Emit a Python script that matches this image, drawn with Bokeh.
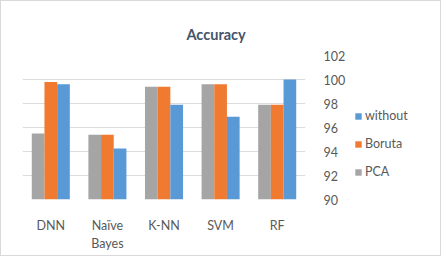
from bokeh.plotting import figure
from bokeh.layouts import row
from bokeh.models import (FactorRange, Range1d, LinearAxis, Legend, LegendItem,
                          FixedTicker, ColumnDataSource)
from bokeh.transform import dodge
from bokeh.embed import file_html
from bokeh.resources import INLINE

categories = ["DNN", "Naïve\nBayes", "K-NN", "SVM", "RF"]
pca = [95.5, 95.4, 99.4, 99.6, 97.9]
boruta = [99.8, 95.4, 99.4, 99.6, 97.9]
without = [99.6, 94.25, 97.9, 96.9, 100.0]
y_ticks = [90, 92, 94, 96, 98, 100, 102]
series = ["without", "Boruta", "PCA"]
colors = {"PCA": "#a5a5a5", "Boruta": "#ef7a30", "without": "#5899d6"}

FONT = "Lato"
TXT = "#595959"

src = ColumnDataSource(dict(cat=categories, pca=pca, boruta=boruta, without=without))

p = figure(frame_width=283, frame_height=144, output_backend="svg", toolbar_location=None,
           x_range=FactorRange(*categories, range_padding=0),
           y_range=Range1d(90, 102), y_axis_location=None,
           min_border_left=21, min_border_right=0, min_border_top=54,
           min_border_bottom=56, outline_line_color=None)

w = 0.224
r_pca = p.vbar(x=dodge("cat", -w, range=p.x_range), top="pca", bottom=90, width=w,
               source=src, fill_color=colors["PCA"], line_color=None)
r_bor = p.vbar(x=dodge("cat", 0, range=p.x_range), top="boruta", bottom=90, width=w,
               source=src, fill_color=colors["Boruta"], line_color=None)
r_wo = p.vbar(x=dodge("cat", w, range=p.x_range), top="without", bottom=90, width=w,
              source=src, fill_color=colors["without"], line_color=None)

yax = LinearAxis(ticker=FixedTicker(ticks=y_ticks))
yax.axis_line_color = None
yax.major_tick_line_color = None
yax.minor_tick_line_color = None
yax.major_label_text_font = FONT
yax.major_label_text_font_size = "12.5px"
yax.major_label_text_color = TXT
yax.major_label_standoff = 12
p.add_layout(yax, "right")

p.ygrid.ticker = FixedTicker(ticks=y_ticks)
p.ygrid.grid_line_color = "#dcdcdc"
p.xgrid.grid_line_color = None

xa = p.xaxis[0]
xa.axis_line_color = None
xa.major_tick_line_color = None
xa.minor_tick_line_color = None
xa.major_label_text_font = FONT
xa.major_label_text_font_size = "12.5px"
xa.major_label_text_color = TXT
xa.major_label_standoff = 12

p.title.text = "Accuracy"
p.title.text_font = FONT
p.title.text_font_style = "bold"
p.title.text_font_size = "14.5px"
p.title.text_color = "#44546a"
p.title.align = "left"
p.title.offset = 164
p.title.standoff = 22
p.title.vertical_align = "top"

# legend panel as a separate small figure
lg = figure(width=92, height=254, output_backend="svg", toolbar_location=None,
            x_range=Range1d(0, 1), y_range=Range1d(0, 1), min_border=0,
            outline_line_color=None)
lg.axis.visible = False
lg.grid.visible = False
items = []
for s in series:
    r = lg.vbar(x=[-5], top=[-5], bottom=-6, width=0.1,
                fill_color=colors[s], line_color=None)
    items.append(LegendItem(label=s, renderers=[r]))
legend = Legend(items=items, location=(6, 20), border_line_color=None,
                background_fill_alpha=0, label_text_font=FONT,
                label_text_font_size="12.5px", label_text_color=TXT,
                glyph_width=8, glyph_height=8, spacing=13, label_standoff=3,
                padding=0, margin=0)
lg.add_layout(legend, "center")

layout = row(p, lg, spacing=0)
layout.styles = {"border": "1px solid #d9d9d9"}

open("out.html", "w").write(file_html(layout, INLINE))
